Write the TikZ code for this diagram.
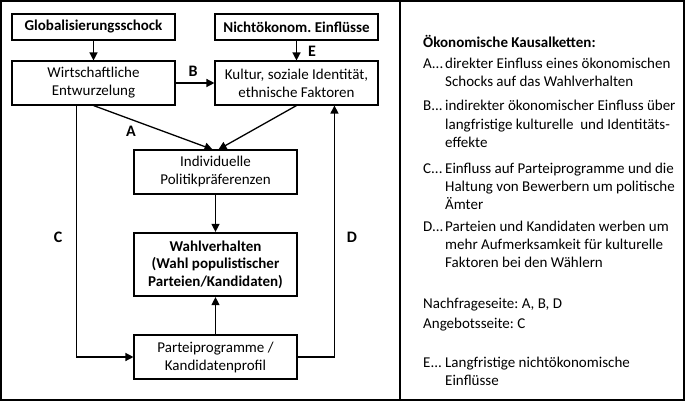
\documentclass[tikz,border=0pt]{standalone}
\usepackage{fontspec}
\setmainfont{Carlito}
\usetikzlibrary{arrows.meta,calc}
\frenchspacing
\begin{document}
\begin{tikzpicture}[x=1pt,y=-1pt,
  box/.style={draw,line width=1.1pt,minimum width=163pt,minimum height=44pt,align=center,inner sep=0pt,font=\fontsize{15}{18}\selectfont},
  topbox/.style={box,minimum height=26pt,font=\fontsize{15}{18}\selectfont\bfseries},
  mainbox/.style={box,line width=2.2pt,minimum height=63pt,font=\fontsize{15}{17.5}\selectfont\bfseries},
  arr/.style={-{Triangle[length=8pt,width=8pt]},line width=1.3pt},
  lab/.style={font=\fontsize{16}{18}\selectfont\bfseries,inner sep=0pt},
  txt/.style={anchor=base west,inner sep=0pt,font=\fontsize{15}{18}\selectfont},
  frame/.style={line width=1.8pt}
]
\useasboundingbox (0,0) rectangle (685,401);
\draw[frame] (1,1) rectangle (684,400);
\draw[frame] (400,1) -- (400,400);

\node[topbox] (glob) at (93.5,27) {Globalisierungsschock};
\node[topbox] (nicht) at (296.5,27) {Nichtökonom. Einflüsse};
\node[box] (wirt) at (93.5,83) {Wirtschaftliche\\Entwurzelung};
\node[box] (kultur) at (296.5,83) {Kultur, soziale Identität,\\ethnische Faktoren};
\node[box] (indiv) at (215.5,172) {Individuelle\\Politikpräferenzen};
\node[mainbox] (wahl) at (215.5,264.5) {Wahlverhalten\\(Wahl populistischer\\Parteien/Kandidaten)};
\node[box] (partei) at (215.5,357) {Parteiprogramme /\\Kandidatenprofil};

\draw[arr] (glob.south) -- (wirt.north);
\draw[arr] (nicht.south) -- (kultur.north);
\draw[arr] (wirt.east) -- (kultur.west);
\draw[arr] (wirt.south) -- ($(indiv.north)+(-3,0)$);
\draw[arr] (kultur.south) -- ($(indiv.north)+(3,0)$);
\draw[arr] (indiv.south) -- (wahl.north);
\draw[arr] (partei.north) -- (wahl.south);
\draw[arr] ($(wirt.south west)+(65,0)$) |- (partei.west);
\draw[arr] (partei.east) -| ($(kultur.south west)+(120,0)$);

\node[lab] (lE) at (312,51) {E};
\node[lab] (lB) at (193,71) {B};
\node[lab] (lA) at (131,131) {A};
\node[lab] (lC) at (58,237) {C};
\node[lab] (lD) at (352,237) {D};

\node[txt,font=\fontsize{15}{18}\selectfont\bfseries] (title) at (423,48) {Ökonomische Kausalketten:};
\node[txt] (iA) at (423,69) {\begin{tabular}[t]{@{}p{22pt}@{}l@{}}A...&direkter Einfluss eines ökonomischen\\&Schocks auf das Wahlverhalten\end{tabular}};
\node[txt] (iB) at (423,111) {\begin{tabular}[t]{@{}p{22pt}@{}l@{}}B...&indirekter ökonomischer Einfluss über\\&langfristige kulturelle\ \ und Identitäts-\\&effekte\end{tabular}};
\node[txt] (iC) at (423,173) {\begin{tabular}[t]{@{}p{22pt}@{}l@{}}C...&Einfluss auf Parteiprogramme und die\\&Haltung von Bewerbern um politische\\&Ämter\end{tabular}};
\node[txt] (iD) at (423,231) {\begin{tabular}[t]{@{}p{22pt}@{}l@{}}D...&Parteien und Kandidaten werben um\\&mehr Aufmerksamkeit für kulturelle\\&Faktoren bei den Wählern\end{tabular}};
\node[txt] (nach) at (423,308) {Nachfrageseite: A, B, D};
\node[txt] (ange) at (423,328) {Angebotsseite: C};
\node[txt] (iE) at (423,367) {\begin{tabular}[t]{@{}p{22pt}@{}l@{}}E...&Langfristige nichtökonomische\\&Einflüsse\end{tabular}};
\end{tikzpicture}
\end{document}
